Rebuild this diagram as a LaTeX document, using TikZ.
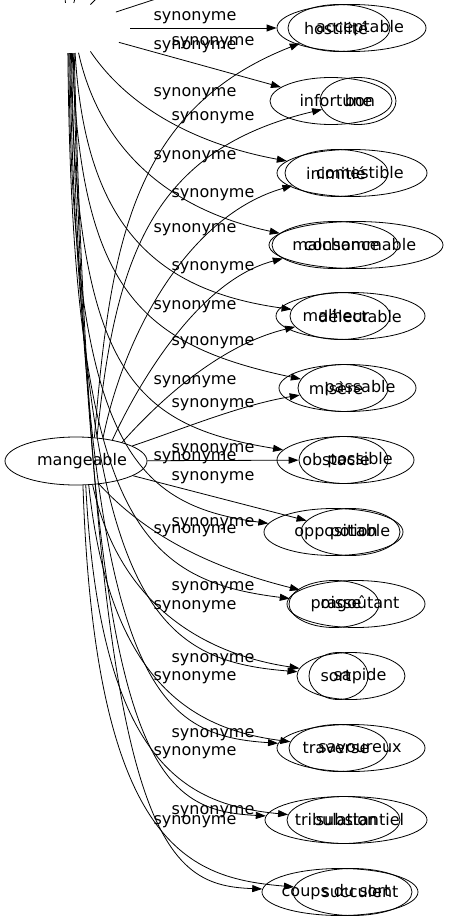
\documentclass[tikz,border=0pt]{standalone}
\usepackage{fontspec}
\setmainfont{DejaVu Sans}
\usetikzlibrary{shapes.geometric,arrows.meta}
\begin{document}
\begin{tikzpicture}[x=1pt,y=-1pt,
  ell/.style={draw,ellipse,inner sep=0pt,minimum height=47pt,line width=0.8pt},
  hid/.style={ellipse,inner sep=0pt},
  word/.style={inner sep=0pt,font=\fontsize{16}{18}\selectfont},
  lab/.style={inner sep=0pt,font=\fontsize{16}{18}\selectfont},
  edge/.style={draw,line width=0.8pt,-{Triangle[length=10pt,width=7pt]}},
  stub/.style={draw,line width=0.8pt}
]
\useasboundingbox (0,0) rectangle (449,923);
\clip (0,0) rectangle (449,923);
% hidden centre of the upper graph
\node[hid,minimum width=126pt,minimum height=50pt] (Bc) at (67,28) {};
% mangeable
\node[ell,minimum width=142pt,minimum height=48pt] (M) at (76,461) {};
\node[word] (tM) at (82,461) {mangeable};
% right ellipses
\node[ell,minimum width=149pt] (R1o) at (351.5,28) {};
\node[ell,minimum width=102pt] (R1i) at (339,28) {};
\node[ell,minimum width=122pt] (R2o) at (331,101) {};
\node[ell,minimum width=76pt] (R2i) at (358,101) {};
\node[ell,minimum width=150pt] (R3o) at (352,173) {};
\node[ell,minimum width=103pt] (R3i) at (336.5,173) {};
\node[ell,minimum width=174pt] (R4o) at (356,245) {};
\node[ell,minimum width=126pt] (R4i) at (335,245) {};
\node[ell,minimum width=149pt] (R5o) at (350.5,316) {};
\node[ell,minimum width=100pt] (R5i) at (340,316) {};
\node[ell,minimum width=137pt] (R6o) at (347.5,388) {};
\node[ell,minimum width=90pt] (R6i) at (343,388) {};
\node[ell,minimum width=137pt] (R7o) at (345.5,460) {};
\node[ell,minimum width=89pt] (R7i) at (343.5,460) {};
\node[ell,minimum width=139pt] (R8o) at (333.5,532) {};
\node[ell,minimum width=99pt] (R8i) at (350.5,532) {};
\node[ell,minimum width=138pt] (R9o) at (356,604) {};
\node[ell,minimum width=90pt] (R9i) at (334,604) {};
\node[ell,minimum width=108pt] (R10o) at (351,676) {};
\node[ell,minimum width=59pt] (R10i) at (338.5,676) {};
\node[ell,minimum width=148pt] (R11o) at (351,748) {};
\node[ell,minimum width=99pt] (R11i) at (338.5,748) {};
\node[ell,minimum width=162pt] (R12o) at (346,820) {};
\node[ell,minimum width=113pt] (R12i) at (343.5,820) {};
\node[ell,minimum width=156pt] (R13o) at (340,892) {};
\node[ell,minimum width=119pt] (R13i) at (352.5,892) {};
% words of the upper graph
\node[word] (b1) at (336,28) {hostilité};
\node[word] (b2) at (336,101) {infortune};
\node[word] (b3) at (336,173) {inimitié};
\node[word] (b4) at (336,245) {malchance};
\node[word] (b5) at (336,316) {malheur};
\node[word] (b6) at (336,388) {misère};
\node[word] (b7) at (336,460) {obstacle};
\node[word] (b8) at (336,532) {opposition};
\node[word] (b9) at (336,604) {poisse};
\node[word] (b10) at (336,676) {sort};
\node[word] (b11) at (336,748) {traverse};
\node[word] (b12) at (336,820) {tribulation};
\node[word] (b13) at (336,892) {coups du sort};
% words of mangeable
\node[word] (a1) at (360,28) {acceptable};
\node[word] (a2) at (360,101) {bon};
\node[word] (a3) at (360,173) {comestible};
\node[word] (a4) at (360,245) {consommable};
\node[word] (a5) at (360,316) {délectable};
\node[word] (a6) at (360,388) {passable};
\node[word] (a7) at (360,460) {possible};
\node[word] (a8) at (360,532) {potable};
\node[word] (a9) at (360,604) {ragoûtant};
\node[word] (a10) at (360,676) {sapide};
\node[word] (a11) at (360,748) {savoureux};
\node[word] (a12) at (360,820) {substantiel};
\node[word] (a13) at (360,892) {succulent};
% labels
\foreach \i/\y in {1/18,2/47,3/94,4/157,5/230,6/307,7/382,8/458,9/531,10/607,11/678,12/753,13/822}
  \node[lab] (lL\i) at (195,\y) {synonyme};
\foreach \i/\y in {1/43,2/118,3/195,4/268,5/343,6/405,7/450,8/478,9/524,10/588,11/660,12/735,13/812}
  \node[lab] (lR\i) at (213,\y) {synonyme};
% stubs leaving the hidden centre upwards
\coordinate (up1) at (214,-20);
\coordinate (up2) at (115,-20);
\coordinate (up3) at (64,-20);
\coordinate (up4) at (80,-20);
\draw[stub] (Bc) -- (up1);
\draw[stub] (Bc) -- (up2);
\draw[stub] (Bc) -- (up3);
\draw[stub] (Bc) -- (up4);
% edges of the upper graph
\draw[edge] (Bc) -- (R1o);
\draw[edge] (Bc) -- (R2o);
\draw[edge] (Bc.-45) .. controls (130,110) and (200,145) .. (R3o);
\draw[edge] (Bc.-65) .. controls (100,150) and (170,210) .. (R4i);
\draw[edge] (Bc.-72) .. controls (85,220) and (150,290) .. (R5i);
\draw[edge] (Bc.-78) .. controls (80,290) and (140,345) .. (R6i);
\draw[edge] (Bc.-82) .. controls (76,370) and (130,425) .. (R7o);
\draw[edge] (Bc.-86) .. controls (72,440) and (130,505) .. (R8o);
\draw[edge] (Bc.-88) .. controls (72,520) and (140,580) .. (R9i);
\draw[edge] (Bc.-84) .. controls (80,600) and (150,660) .. (R10o);
\draw[edge] (Bc.-80) .. controls (85,680) and (150,735) .. (R11o);
\draw[edge] (Bc.-76) .. controls (90,760) and (150,810) .. (R12o);
\draw[edge] (Bc.-74) .. controls (95,840) and (160,885) .. (R13o);
% edges of mangeable
\draw[edge] (M.52) .. controls (110,250) and (130,110) .. (R1i);
\draw[edge] (M.48) .. controls (115,260) and (150,150) .. (R2i);
\draw[edge] (M.40) .. controls (125,330) and (190,215) .. (R3i);
\draw[edge] (M.30) .. controls (140,380) and (200,280) .. (R4i);
\draw[edge] (M.22) .. controls (160,400) and (220,345) .. (R5i);
\draw[edge] (M.15) .. controls (180,430) and (240,405) .. (R6i);
\draw[edge] (M) -- (R7i);
\draw[edge] (M) -- (R8i);
\draw[edge] (M.-45) .. controls (150,540) and (220,570) .. (R9o);
\draw[edge] (M.-55) .. controls (120,610) and (210,655) .. (R10o);
\draw[edge] (M.-62) .. controls (110,690) and (200,730) .. (R11i);
\draw[edge] (M.-68) .. controls (100,770) and (190,805) .. (R12i);
\draw[edge] (M.-74) .. controls (95,850) and (190,878) .. (R13i);
\end{tikzpicture}
\end{document}
